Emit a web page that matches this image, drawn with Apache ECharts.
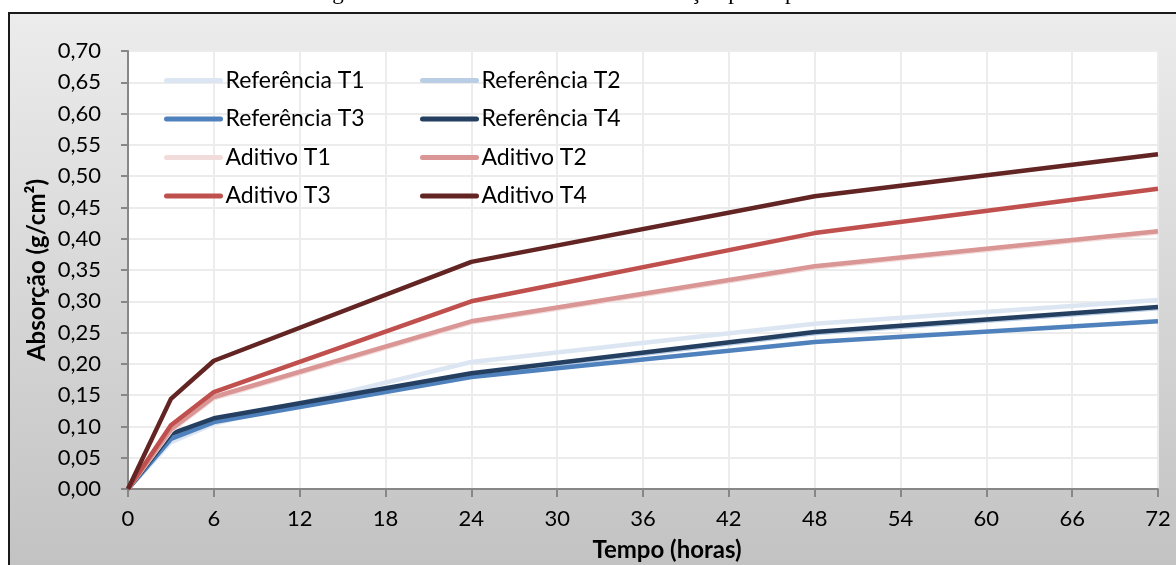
<!DOCTYPE html>
<html>
<head>
<meta charset="utf-8">
<title>Absorção por capilaridade</title>
<script src="https://cdn.jsdelivr.net/npm/echarts@6/dist/echarts.min.js"></script>
<style>
  html, body { margin: 0; padding: 0; background: #fff; }
  #chart { width: 1176px; height: 565px; }
</style>
</head>
<body>
<div id="chart"></div>
<script>
// Tempo de ensaio (horas)
const hours = [0, 3, 6, 24, 48, 72];

// Absorção acumulada (g/cm²)
const refT1 = [0, 0.075, 0.104, 0.203, 0.264, 0.302];
const refT2 = [0, 0.082, 0.109, 0.183, 0.249, 0.289];
const refT3 = [0, 0.080, 0.107, 0.179, 0.235, 0.268];
const refT4 = [0, 0.088, 0.113, 0.185, 0.251, 0.291];
const aditT1 = [0, 0.093, 0.145, 0.266, 0.354, 0.410];
const aditT2 = [0, 0.095, 0.147, 0.268, 0.356, 0.412];
const aditT3 = [0, 0.102, 0.155, 0.300, 0.409, 0.480];
const aditT4 = [0, 0.144, 0.205, 0.363, 0.468, 0.535];

const seriesNames = ['Referência T1', 'Referência T2', 'Referência T3', 'Referência T4',
                     'Aditivo T1', 'Aditivo T2', 'Aditivo T3', 'Aditivo T4'];
const seriesValues = [refT1, refT2, refT3, refT4, aditT1, aditT2, aditT3, aditT4];
const seriesColors = ['#dce6f2', '#b9cde5', '#4f81bd', '#243f60',
                      '#f2dcdb', '#d99694', '#c0504d', '#632523'];

const titleText = 'Figura 5 – Resultados do ensaio de absorção por capilaridade';
const yAxisTitle = 'Absorção (g/cm²)';
const xAxisTitle = 'Tempo (horas)';

const FONT = 'Lato, "Open Sans", sans-serif';

const chart = echarts.init(document.getElementById('chart'), null, { renderer: 'canvas' });

const series = seriesNames.map((name, i) => ({
  name,
  type: 'line',
  data: hours.map((h, j) => [h, seriesValues[i][j]]),
  symbol: 'none',
  showSymbol: false,
  animation: false,
  color: seriesColors[i],
  lineStyle: { width: 4.5, color: seriesColors[i], join: 'round' }
}));

const legendCommon = {
  orient: 'vertical',
  padding: 0,
  itemWidth: 54,
  itemHeight: 20,
  itemGap: 15.5,
  selectedMode: false,
  textStyle: { fontFamily: FONT, fontSize: 23, color: '#000' },
  itemStyle: { color: 'transparent', opacity: 0, borderWidth: 0 },
  lineStyle: { width: 5, cap: 'round' }
};

chart.setOption({
  animation: false,
  graphic: {
    elements: [
      {
        type: 'rect',
        z: -10,
        shape: { x: 9, y: 13, width: 1200, height: 600 },
        style: {
          fill: new echarts.graphic.LinearGradient(0, 0, 0, 1, [
            { offset: 0, color: '#ececec' },
            { offset: 1, color: '#bfbfbf' }
          ]),
          stroke: '#1a1a1a',
          lineWidth: 2
        }
      },
      {
        type: 'text',
        x: 595,
        y: -7,
        style: {
          text: titleText,
          font: '23px "Liberation Serif", serif',
          fill: '#000',
          textAlign: 'center',
          textVerticalAlign: 'middle'
        }
      },
      {
        type: 'text',
        x: 37,
        y: 270,
        rotation: Math.PI / 2,
        style: {
          text: yAxisTitle,
          font: 'bold 24px ' + FONT,
          fill: '#000',
          textAlign: 'center',
          textVerticalAlign: 'middle'
        }
      },
      {
        type: 'text',
        x: 667,
        y: 550,
        style: {
          text: xAxisTitle,
          font: 'bold 24px ' + FONT,
          fill: '#000',
          textAlign: 'center',
          textVerticalAlign: 'middle'
        }
      }
    ]
  },
  grid: {
    left: 128, right: 18, top: 51, bottom: 76,
    show: true, backgroundColor: '#ffffff', borderWidth: 0
  },
  legend: [
    Object.assign({ left: 164, top: 69, data: ['Referência T1', 'Referência T3', 'Aditivo T1', 'Aditivo T3'] }, legendCommon),
    Object.assign({ left: 420, top: 69, data: ['Referência T2', 'Referência T4', 'Aditivo T2', 'Aditivo T4'] }, legendCommon)
  ],
  xAxis: {
    type: 'value',
    min: 0, max: 72, interval: 6,
    axisLine: { show: true, lineStyle: { color: '#878787', width: 2 } },
    axisTick: { show: true, length: 8, lineStyle: { color: '#878787', width: 2 } },
    axisLabel: { fontFamily: FONT, fontSize: 22, color: '#000', margin: 19 },
    splitLine: { show: true, lineStyle: { color: '#ececec', width: 2 } }
  },
  yAxis: {
    type: 'value',
    min: 0, max: 0.7, interval: 0.05,
    axisLine: { show: true, lineStyle: { color: '#878787', width: 2 } },
    axisTick: { show: true, length: 7, lineStyle: { color: '#878787', width: 2 } },
    axisLabel: {
      fontFamily: FONT, fontSize: 22, color: '#000', margin: 27,
      formatter: v => v.toFixed(2).replace('.', ',')
    },
    splitLine: { show: true, lineStyle: { color: '#ececec', width: 2 } }
  },
  series
});
</script>
</body>
</html>
